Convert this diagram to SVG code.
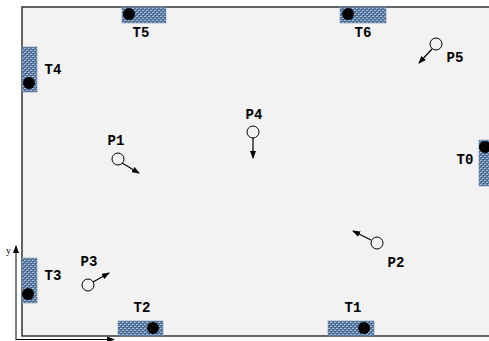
<svg xmlns="http://www.w3.org/2000/svg" width="489" height="341" viewBox="0 0 489 341">
<style>
.lbl{font-family:"Liberation Mono","Courier New",monospace;font-weight:bold;font-size:14px;fill:#000;text-anchor:middle}
.tb{fill:url(#hatch);stroke:#7a8ea8;stroke-width:0.6}
.dot{fill:#000}
.p{fill:none;stroke:#000;stroke-width:1}
.arr{stroke:#000;stroke-width:1.2;fill:none;marker-end:url(#ah)}
.ax{stroke:#000;stroke-width:1;fill:none}
</style>
<defs>
<pattern id="hatch" width="4" height="4" patternUnits="userSpaceOnUse">
<rect width="4" height="4" fill="#587aa3"/>
<rect x="0" y="0" width="2" height="1" fill="#a9bdd3"/>
<rect x="2" y="2" width="2" height="1" fill="#a9bdd3"/>
<rect x="1" y="1" width="1" height="1" fill="#33507a"/>
<rect x="3" y="3" width="1" height="1" fill="#33507a"/>
</pattern>
<marker id="ah" markerWidth="8" markerHeight="6" refX="7" refY="3" orient="auto" markerUnits="userSpaceOnUse">
<path d="M0,0 L8,3 L0,6 Z" fill="#000"/>
</marker>
</defs>
<rect x="0" y="0" width="489" height="341" fill="#fff"/>
<rect id="field" x="22" y="7" width="470" height="329" fill="#f2f2f2" stroke="#333" stroke-width="1.5"/>
<g id="axes">
<line class="ax" x1="16" y1="340" x2="16" y2="246" marker-end="url(#ah)"/>
<line class="ax" x1="16" y1="339.5" x2="114" y2="339.5" marker-end="url(#ah)"/>
<text x="6" y="254" font-family="Liberation Serif,serif" font-size="10">y</text>
</g>
<g id="T5"><rect class="tb" x="122" y="7" width="44" height="16"/><circle class="dot" cx="129" cy="14" r="6"/><text class="lbl" x="141" y="37">T5</text></g>
<g id="T6"><rect class="tb" x="340" y="7" width="46" height="16"/><circle class="dot" cx="348" cy="14" r="6"/><text class="lbl" x="363" y="37">T6</text></g>
<g id="T4"><rect class="tb" x="22" y="47" width="15" height="45"/><circle class="dot" cx="29" cy="83" r="6"/><text class="lbl" x="53" y="74">T4</text></g>
<g id="T0"><rect class="tb" x="479" y="140" width="12" height="46"/><circle class="dot" cx="485" cy="147" r="6"/><text class="lbl" x="465" y="164">T0</text></g>
<g id="T3"><rect class="tb" x="22" y="258" width="15" height="45"/><circle class="dot" cx="28" cy="294" r="6"/><text class="lbl" x="53" y="280">T3</text></g>
<g id="T2"><rect class="tb" x="118" y="321" width="45" height="15"/><circle class="dot" cx="153" cy="328" r="6"/><text class="lbl" x="142" y="312">T2</text></g>
<g id="T1"><rect class="tb" x="328" y="321" width="46" height="15"/><circle class="dot" cx="364" cy="328" r="6"/><text class="lbl" x="353" y="312">T1</text></g>
<g id="P1"><circle class="p" cx="118" cy="159" r="6"/><text class="lbl" x="116" y="145">P1</text></g>
<g id="P4"><circle class="p" cx="253" cy="132" r="6"/><text class="lbl" x="254" y="119">P4</text></g>
<g id="P5"><circle class="p" cx="436" cy="44" r="6"/><text class="lbl" x="455" y="62">P5</text></g>
<g id="P2"><circle class="p" cx="377" cy="243" r="6"/><text class="lbl" x="396" y="267">P2</text></g>
<g id="P3"><circle class="p" cx="88" cy="285" r="6"/><text class="lbl" x="89" y="266">P3</text></g>
<g id="connectors">
<line class="arr" x1="122" y1="163" x2="139" y2="173"/>
<line class="arr" x1="253" y1="138" x2="253" y2="158"/>
<line class="arr" x1="432" y1="49" x2="419" y2="63"/>
<line class="arr" x1="371" y1="240" x2="353" y2="231"/>
<line class="arr" x1="93" y1="282" x2="109" y2="273"/>
</g>
</svg>
